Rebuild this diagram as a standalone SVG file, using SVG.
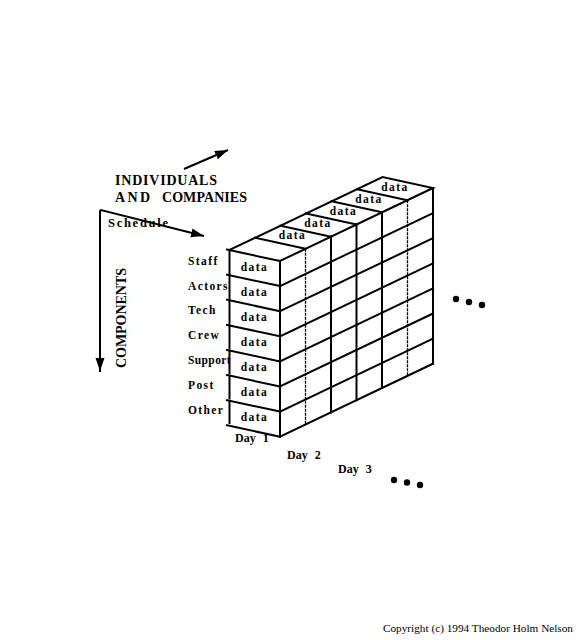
<svg xmlns="http://www.w3.org/2000/svg" width="580" height="640" viewBox="0 0 580 640">
<style>
  .ln { stroke: #000; stroke-width: 2; fill: none; stroke-linecap: square; }
  .thin { stroke: #000; stroke-width: 1.3; fill: none; stroke-dasharray: 3 1; }
  .ax { stroke: #000; stroke-width: 2; fill: none; }
  .t { font-family: "Liberation Serif", "Times New Roman", serif; font-weight: bold; fill: #000; }
  .lab { font-size: 11.5px; letter-spacing: 1.4px; }
  .dat { font-size: 11.5px; letter-spacing: 1.4px; text-anchor: middle; }
  .big { font-size: 14px; }
  .day { font-size: 12px; word-spacing: 4px; }
  .cp { font-family: "Liberation Serif", "Times New Roman", serif; font-size: 10px; fill: #000; }
</style>
<defs>
  <marker id="ah" markerUnits="userSpaceOnUse" markerWidth="14" markerHeight="10" refX="13" refY="4.5" orient="auto">
    <path d="M0,0 L13,4.5 L0,9 z" fill="#000"/>
  </marker>
</defs>
<rect width="580" height="640" fill="#fff"/>

<g id="connectors">
  <path class="ax" d="M100,372 L100,211 L101,210 L204,236" marker-end="url(#ah)"/>
  <path class="ax" d="M100,211 L100,371" marker-end="url(#ah)"/>
  <path class="ax" d="M184,169 L228,150" marker-end="url(#ah)"/>
</g>

<g id="individuals-label">
  <text class="t big" x="115" y="185" textLength="102" lengthAdjust="spacing">INDIVIDUALS</text>
  <text class="t big" x="115" y="202" textLength="35" lengthAdjust="spacing">AND</text>
  <text class="t big" x="162" y="202" textLength="85" lengthAdjust="spacing">COMPANIES</text>
</g>
<g id="schedule-label">
  <text class="t" font-size="12.5" x="108" y="227" textLength="60" lengthAdjust="spacing">Schedule</text>
</g>
<g id="components-label">
  <text class="t big" transform="translate(126,368) rotate(-90)" x="0" y="0" textLength="100" lengthAdjust="spacing">COMPONENTS</text>
</g>

<g id="cube">
  <path class="ln" d="M229.5,250 V273 M229.5,275.1 V298 M229.5,300.2 V323 M229.5,325.3 V348 M229.5,350.4 V373 M229.5,375.5 V398 M229.5,400.6 V423"/>
  <path class="ln" d="M227,249.6 L280,261 M227,274.7 L280,286.1 M227,299.8 L280,311.2 M227,324.9 L280,336.3 M227,350 L280,361.4 M227,375.1 L280,386.5 M227,400.2 L280,411.6 M227,425.3 L280,436.7"/>
  <path class="ln" d="M229.5,250 L382.5,177 L433,188 L280,261"/>
  <path class="ln" d="M255,237.8 L305.5,248.8 M280.5,225.7 L331,236.7 M306,213.5 L356.5,224.5 M331.5,201.3 L382,212.3 M357,189.2 L407.5,200.2"/>
  <path class="ln" d="M280,286.1 L433,213.1 M280,311.2 L433,238.2 M280,336.3 L433,263.3 M280,361.4 L433,288.4 M280,386.5 L433,313.5 M280,411.6 L433,338.6 M280,436.7 L433,363.7"/>
  <path class="ln" d="M280,261 V436.7 M331,236.7 V412.4 M356.5,224.5 V400.2 M382,212.3 V388 M433,188 V363.7"/>
  <path class="thin" d="M305.5,248.8 V424.5 M407.5,200.2 V375.9"/>
  <text class="t dat" x="292.5" y="239">data</text>
  <text class="t dat" x="318" y="227">data</text>
  <text class="t dat" x="343.5" y="215">data</text>
  <text class="t dat" x="369" y="202.5">data</text>
  <text class="t dat" x="395" y="190.5">data</text>
</g>

<g id="row-staff">
  <text class="t lab" x="188" y="265">Staff</text>
  <text class="t dat" x="254.5" y="271">data</text>
</g>
<g id="row-actors">
  <text class="t lab" x="188" y="289.5">Actors</text>
  <text class="t dat" x="254.5" y="296">data</text>
</g>
<g id="row-tech">
  <text class="t lab" x="188" y="314">Tech</text>
  <text class="t dat" x="254.5" y="321">data</text>
</g>
<g id="row-crew">
  <text class="t lab" x="188" y="339">Crew</text>
  <text class="t dat" x="254.5" y="346">data</text>
</g>
<g id="row-support">
  <text class="t lab" x="188" y="364" textLength="44" lengthAdjust="spacing">Support</text>
  <text class="t dat" x="254.5" y="371">data</text>
</g>
<g id="row-post">
  <text class="t lab" x="188" y="389">Post</text>
  <text class="t dat" x="254.5" y="396">data</text>
</g>
<g id="row-other">
  <text class="t lab" x="188" y="414">Other</text>
  <text class="t dat" x="254.5" y="421">data</text>
</g>

<g id="day-1"><text class="t day" x="235" y="442">Day 1</text></g>
<g id="day-2"><text class="t day" x="287" y="459">Day 2</text></g>
<g id="day-3"><text class="t day" x="338" y="473">Day 3</text></g>

<g id="more-days">
  <circle cx="394" cy="480" r="3.2"/>
  <circle cx="407" cy="482.5" r="3.2"/>
  <circle cx="420" cy="485" r="3.2"/>
</g>
<g id="more-individuals">
  <circle cx="456" cy="299" r="3.2"/>
  <circle cx="469" cy="302" r="3.2"/>
  <circle cx="482" cy="305" r="3.2"/>
</g>

<g id="copyright">
  <text class="cp" x="383" y="632" textLength="190" lengthAdjust="spacingAndGlyphs">Copyright (c) 1994 Theodor Holm Nelson</text>
</g>
</svg>
